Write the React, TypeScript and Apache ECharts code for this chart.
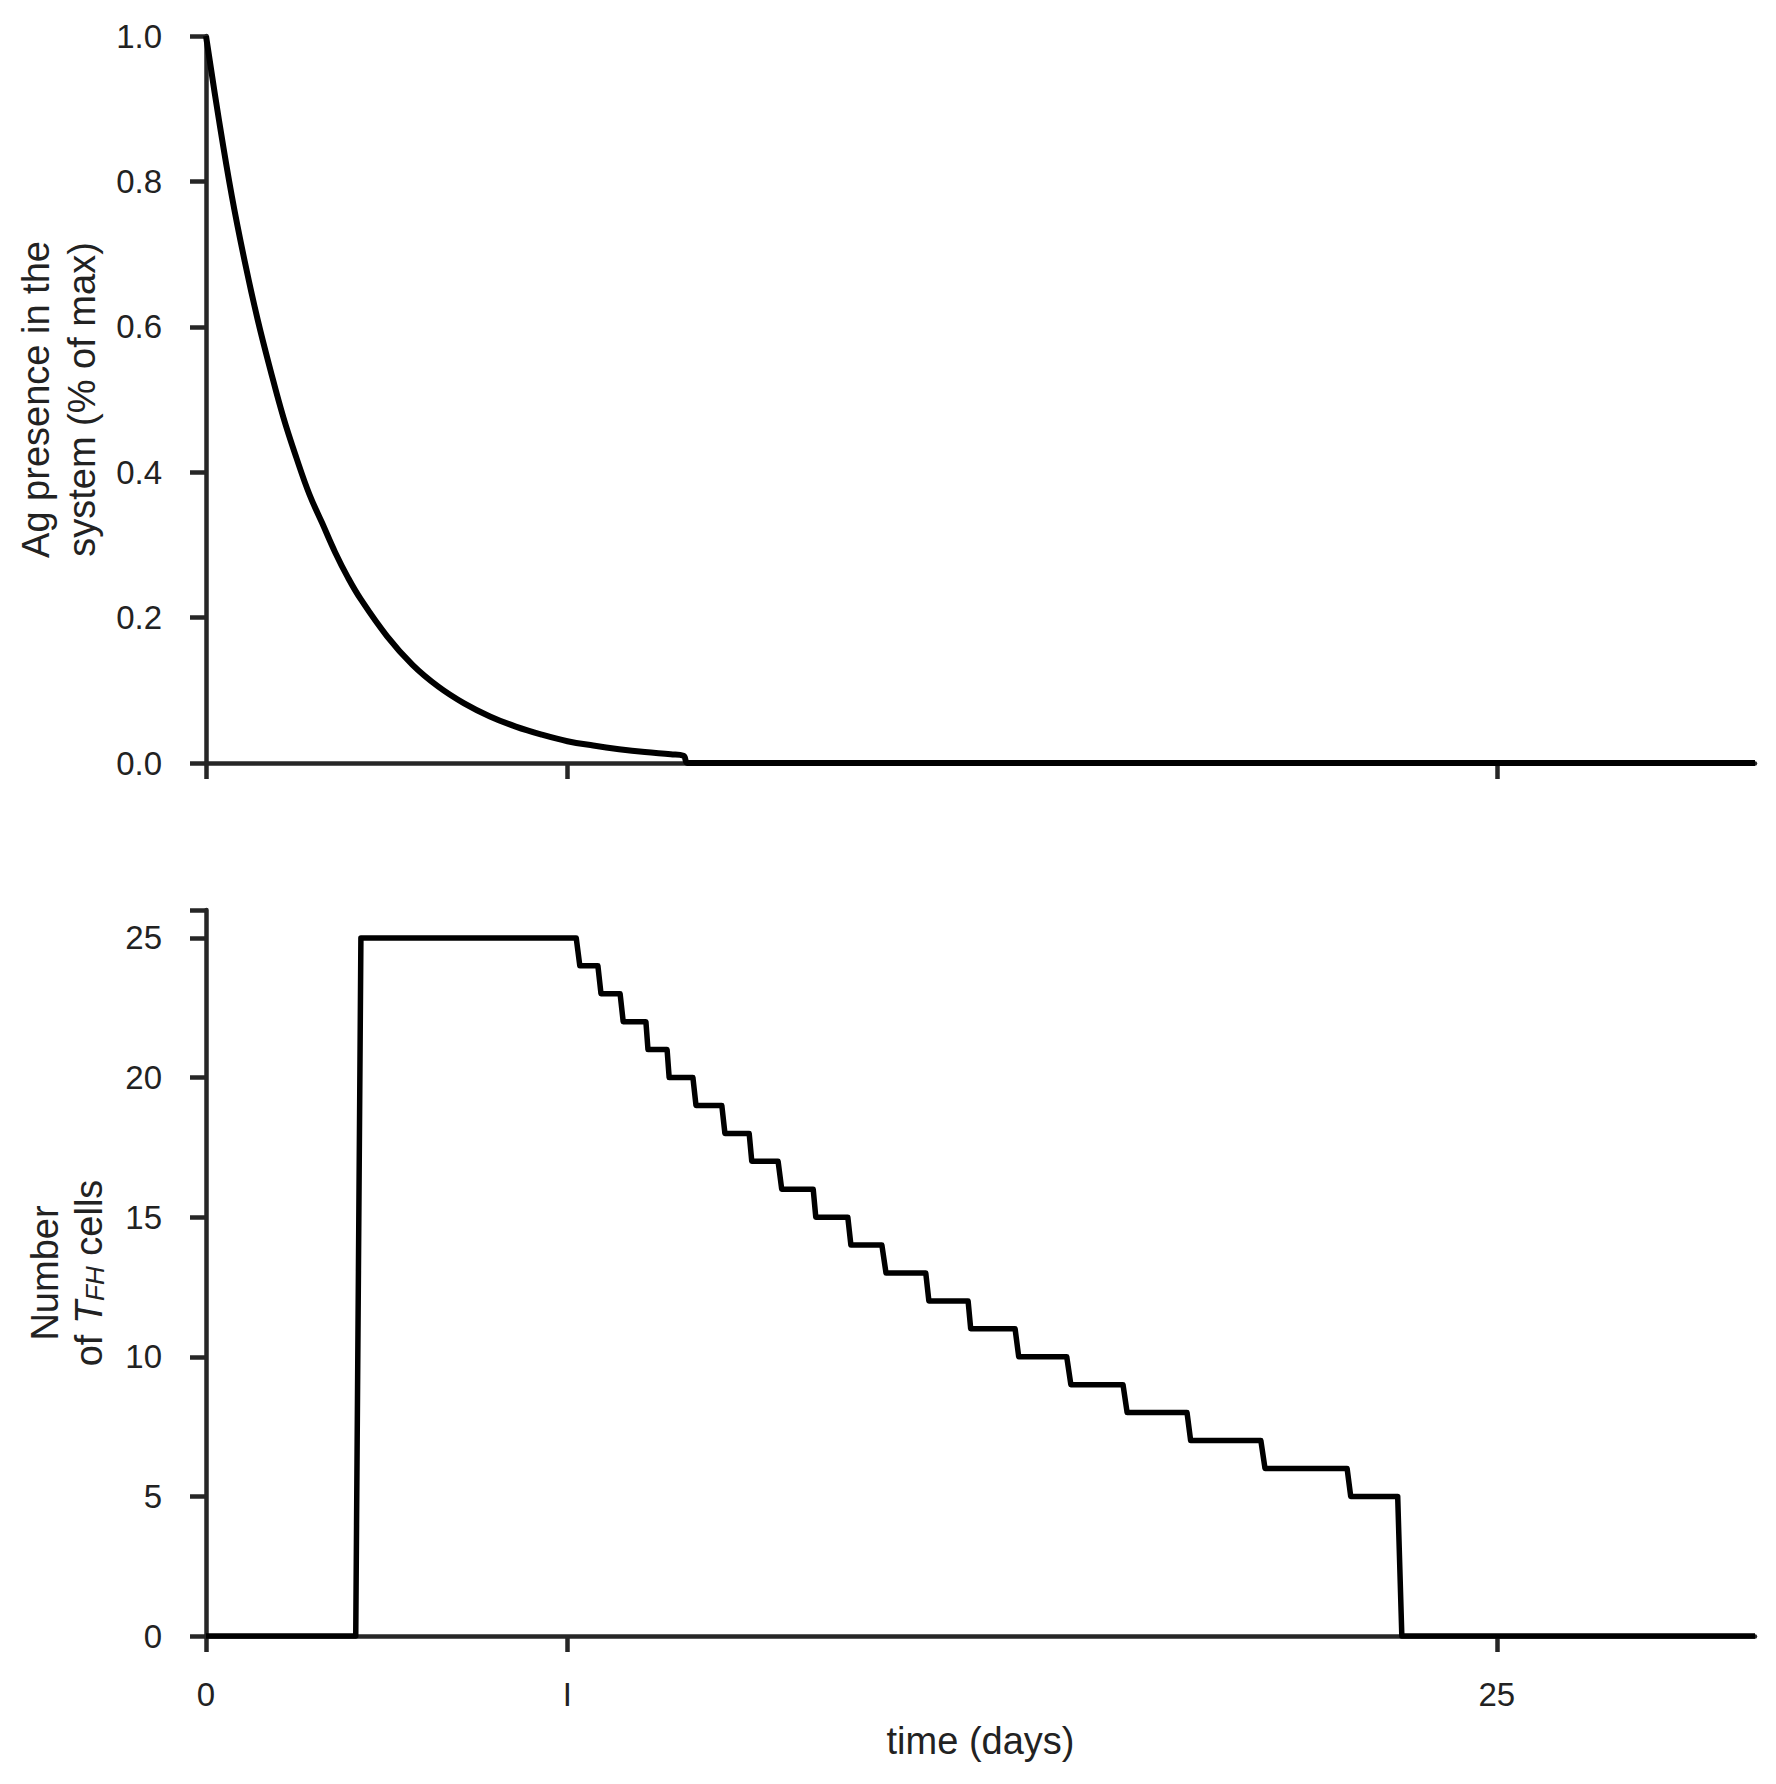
import React, { useEffect, useRef } from "react";
import * as echarts from "echarts";

// ---- Data ----
// Top panel: antigen presence (fraction of max) over time (days)
const agTime = [0, 0.25, 0.5, 0.75, 1, 1.25, 1.5, 1.75, 2, 2.25, 2.5, 2.75, 3, 3.5, 4, 4.5, 5, 5.5, 6, 6.5, 7, 7.5, 8, 8.5, 9, 9.25, 9.33, 30];
const agValue = [1.0, 0.885, 0.78, 0.69, 0.61, 0.54, 0.475, 0.42, 0.37, 0.33, 0.29, 0.255, 0.225, 0.175, 0.135, 0.105, 0.082, 0.064, 0.05, 0.039, 0.03, 0.024, 0.019, 0.015, 0.012, 0.01, 0.0, 0.0];

// Bottom panel: number of TFH cells over time (days)
const tfhTime = [0, 2.9, 3.0, 7.17, 7.24, 7.59, 7.65, 8.02, 8.08, 8.52, 8.56, 8.93, 8.97, 9.43, 9.49, 9.99, 10.05, 10.52, 10.57, 11.08, 11.15, 11.76, 11.81, 12.43, 12.49, 13.09, 13.17, 13.94, 14.0, 14.76, 14.81, 15.67, 15.74, 16.67, 16.75, 17.76, 17.84, 19.0, 19.07, 20.43, 20.51, 22.1, 22.17, 23.08, 23.16, 30];
const tfhCount = [0, 0, 25, 25, 24, 24, 23, 23, 22, 22, 21, 21, 20, 20, 19, 19, 18, 18, 17, 17, 16, 16, 15, 15, 14, 14, 13, 13, 12, 12, 11, 11, 10, 10, 9, 9, 8, 8, 7, 7, 6, 6, 5, 5, 0, 0];

// Axis ticks
const xTickValues = [0, 7, 25];
const xTickLabels = ["0", "I", "25"];

const FONT = '"Liberation Sans", Arial, Helvetica, sans-serif';
const AXIS_COLOR = "#262626";
const TEXT_COLOR = "#222222";

export default function App() {
  const ref = useRef<HTMLDivElement>(null);

  useEffect(() => {
    if (!ref.current) return;
    const chart = echarts.init(ref.current, undefined, { renderer: "svg" });

    const axisLine = { show: true, lineStyle: { color: AXIS_COLOR, width: 4.5 } };
    const tickStyle = { color: AXIS_COLOR, width: 4.5 };

    const xBase = (gridIndex: number) => ({
      gridIndex,
      type: "value" as const,
      min: 0,
      max: 30,
      axisLine,
      splitLine: { show: false },
      axisTick: { show: true, customValues: xTickValues, length: 16, lineStyle: tickStyle },
    });

    const option: any = {
      animation: false,
      backgroundColor: "#ffffff",
      textStyle: { fontFamily: FONT },
      grid: [
        { left: 206, top: 36, width: 1549, height: 727 },
        { left: 206, top: 910, width: 1549, height: 726 },
      ],
      xAxis: [
        { ...xBase(0), axisLabel: { show: false } },
        {
          ...xBase(1),
          axisLabel: {
            show: true,
            customValues: xTickValues,
            formatter: (v: number) => {
              const i = xTickValues.indexOf(v);
              return i >= 0 ? xTickLabels[i] : "";
            },
            fontSize: 33,
            color: TEXT_COLOR,
            fontFamily: FONT,
            margin: 42,
          },
          name: "time (days)",
          nameLocation: "middle",
          nameGap: 86,
          nameTextStyle: { fontSize: 38, color: TEXT_COLOR, fontFamily: FONT },
        },
      ],
      yAxis: [
        {
          gridIndex: 0,
          type: "value",
          min: 0,
          max: 1,
          interval: 0.2,
          axisLine,
          splitLine: { show: false },
          axisTick: { show: true, length: 16, lineStyle: tickStyle },
          axisLabel: {
            formatter: (v: number) => v.toFixed(1),
            fontSize: 33,
            color: TEXT_COLOR,
            fontFamily: FONT,
            margin: 44,
          },
          name: "Ag presence in the\nsystem (% of max)",
          nameLocation: "middle",
          nameGap: 100,
          nameRotate: 90,
          nameTextStyle: { fontSize: 38, lineHeight: 46, color: TEXT_COLOR, fontFamily: FONT, align: "center" },
        },
        {
          gridIndex: 1,
          type: "value",
          min: 0,
          max: 26,
          interval: 5,
          axisLine,
          splitLine: { show: false },
          axisTick: { show: true, length: 16, lineStyle: tickStyle },
          axisLabel: {
            formatter: (v: number) => (v % 5 === 0 ? String(v) : ""),
            fontSize: 33,
            color: TEXT_COLOR,
            fontFamily: FONT,
            margin: 44,
          },
          name: "{a|Number}\n{a|of }{i|T}{s|FH}{a| cells}",
          nameLocation: "middle",
          nameGap: 98,
          nameRotate: 90,
          nameTextStyle: {
            color: TEXT_COLOR,
            fontFamily: FONT,
            align: "center",
            rich: {
              a: { fontSize: 38, lineHeight: 44, color: TEXT_COLOR, fontFamily: FONT, verticalAlign: "bottom" },
              i: { fontSize: 38, lineHeight: 44, fontStyle: "italic", color: TEXT_COLOR, fontFamily: FONT, verticalAlign: "bottom" },
              s: { fontSize: 26, lineHeight: 36, fontStyle: "italic", color: TEXT_COLOR, fontFamily: FONT, verticalAlign: "bottom" },
            },
          },
        },
      ],
      series: [
        {
          type: "line",
          xAxisIndex: 0,
          yAxisIndex: 0,
          data: agTime.map((t, i) => [t, agValue[i]]),
          showSymbol: false,
          symbol: "none",
          clip: false,
          smooth: 0.4,
          lineStyle: { color: "#000000", width: 6, join: "round" },
        },
        {
          type: "line",
          xAxisIndex: 1,
          yAxisIndex: 1,
          data: tfhTime.map((t, i) => [t, tfhCount[i]]),
          showSymbol: false,
          symbol: "none",
          clip: false,
          lineStyle: { color: "#000000", width: 5.5, join: "round" },
        },
      ],
    };

    chart.setOption(option);
    return () => chart.dispose();
  }, []);

  return (
    <div
      ref={ref}
      style={{ position: "fixed", left: 0, top: 0, width: 1776, height: 1784, background: "#fff" }}
    />
  );
}
